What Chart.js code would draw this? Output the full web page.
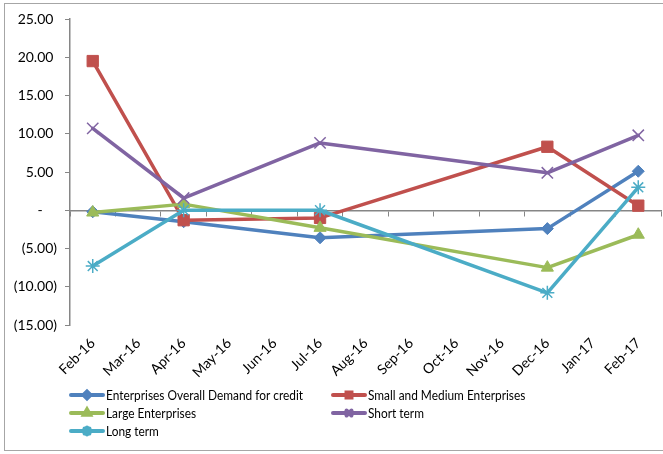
<!DOCTYPE html>
<html lang="en">
<head>
    <meta charset="UTF-8" />
    <title>Demand for credit</title>
    <script src="https://cdn.jsdelivr.net/npm/chart.js"></script>
    <style>
        html, body { margin: 0; padding: 0; background: #fff; }
        #wrap { width: 663px; height: 454px; }
    </style>
</head>
<body>
    <div id="wrap"><canvas id="creditChart" width="663" height="454"></canvas></div>
    <script>
        // Monthly axis, survey points only on some months (gaps spanned)
        const months = ['Feb-16', 'Mar-16', 'Apr-16', 'May-16', 'Jun-16', 'Jul-16', 'Aug-16',
                        'Sep-16', 'Oct-16', 'Nov-16', 'Dec-16', 'Jan-17', 'Feb-17'];
        const seriesNames = ['Enterprises Overall Demand for credit', 'Small and Medium Enterprises',
                             'Large Enterprises', 'Short term', 'Long term'];
        const overallDemand = [-0.2, null, -1.5, null, null, -3.6, null, null, null, null, -2.4, null, 5.1];
        const smeDemand     = [19.5, null, -1.3, null, null, -1.0, null, null, null, null, 8.3, null, 0.6];
        const largeDemand   = [-0.3, null, 0.8, null, null, -2.3, null, null, null, null, -7.5, null, -3.2];
        const shortTerm     = [10.7, null, 1.6, null, null, 8.8, null, null, null, null, 4.9, null, 9.8];
        const longTerm      = [-7.3, null, 0.0, null, null, 0.0, null, null, null, null, -10.8, null, 3.0];
        const yMin = -15, yMax = 25, yStep = 5;

        const colors = ['#4F81BD', '#C0504D', '#9BBB59', '#8064A2', '#4BACC6'];
        const markers = [
            { style: 'rectRot', r: 6, bw: 1 },
            { style: 'rect', r: 8, bw: 1 },
            { style: 'triangle', r: 7, bw: 1 },
            { style: 'crossRot', r: 8, bw: 1.5 },
            { style: 'star', r: 7, bw: 1.5 }
        ];
        const values = [overallDemand, smeDemand, largeDemand, shortTerm, longTerm];
        const FONT = 'Lato, "Liberation Sans", sans-serif';

        const datasets = values.map((data, i) => ({
            label: seriesNames[i],
            data: data,
            borderColor: colors[i],
            backgroundColor: colors[i],
            borderWidth: 3.5,
            borderJoinStyle: 'round',
            borderCapStyle: 'round',
            pointStyle: markers[i].style,
            pointRadius: markers[i].r,
            pointBorderWidth: markers[i].bw,
            pointBorderColor: colors[i],
            pointBackgroundColor: colors[i],
            spanGaps: true,
            tension: 0,
            clip: false,
            order: values.length - i   // last series drawn on top
        }));

        // Outer frame of the chart object
        const framePlugin = {
            id: 'frame',
            beforeDraw(chart) {
                const ctx = chart.ctx;
                ctx.save();
                ctx.fillStyle = '#fff';
                ctx.fillRect(0, 0, chart.width, chart.height);
                ctx.strokeStyle = '#a6a6a6';
                ctx.lineWidth = 1;
                ctx.strokeRect(4.5, 3.5, 700, 447);
                ctx.restore();
            }
        };

        // Legend laid out in two columns under the axis labels
        const gridLegend = {
            id: 'gridLegend',
            afterDraw(chart) {
                const ctx = chart.ctx;
                const colX = [69, 331];
                const rowY = [395, 413, 431];
                ctx.save();
                ctx.font = '13.5px ' + FONT;
                ctx.textBaseline = 'middle';
                ctx.textAlign = 'left';
                chart.data.datasets.forEach((ds, i) => {
                    const x = colX[i % 2];
                    const y = rowY[Math.floor(i / 2)];
                    ctx.strokeStyle = ds.borderColor;
                    ctx.lineWidth = 4;
                    ctx.lineCap = 'round';
                    ctx.beginPath();
                    ctx.moveTo(x + 2, y);
                    ctx.lineTo(x + 34, y);
                    ctx.stroke();
                    ctx.fillStyle = ds.backgroundColor;
                    Chart.helpers.drawPoint(ctx, {
                        pointStyle: ds.pointStyle, radius: 3.5, rotation: 0, borderWidth: 1
                    }, x + 18, y);
                    // narrower lettering, closer to the office font
                    ctx.save();
                    ctx.translate(x + 37, y + 1);
                    ctx.scale(0.88, 1);
                    ctx.fillStyle = '#000';
                    ctx.fillText(ds.label, 0, 0);
                    ctx.restore();
                });
                ctx.restore();
            }
        };

        const fmt = v => {
            if (v === 0) return '-    ';
            if (v < 0) return '(' + Math.abs(v).toFixed(2) + ')';
            return v.toFixed(2) + ' ';
        };

        new Chart(document.getElementById('creditChart').getContext('2d'), {
            type: 'line',
            data: { labels: months, datasets: datasets },
            options: {
                responsive: false,
                animation: false,
                layout: { autoPadding: false, padding: { left: 0, top: 19, right: 2, bottom: 69 } },
                plugins: {
                    legend: { display: false },
                    tooltip: { enabled: false }
                },
                scales: {
                    x: {
                        type: 'category',
                        position: 'bottom',
                        offset: true,
                        grid: { display: false, drawTicks: false },
                        border: { display: false },
                        ticks: {
                            minRotation: 45, maxRotation: 45, autoSkip: false,
                            padding: 10, color: '#000',
                            font: { family: FONT, size: 14 }
                        },
                        afterFit(scale) {
                            // rotated labels run leftwards, no room needed on the right
                            scale.height = 60;
                            scale.paddingRight = 0;
                        }
                    },
                    // horizontal axis line crossing at zero, with tick marks between months
                    xZero: {
                        type: 'category',
                        position: { y: 0 },
                        offset: true,
                        grid: { drawOnChartArea: false, drawTicks: true, tickLength: 5, offset: true, color: '#868686' },
                        border: { color: '#868686', width: 1.5 },
                        ticks: { display: false }
                    },
                    y: {
                        min: yMin, max: yMax,
                        grid: { drawOnChartArea: false, drawTicks: true, tickLength: 5, color: '#868686' },
                        border: { color: '#868686', width: 1.5 },
                        ticks: {
                            stepSize: yStep, padding: 8, color: '#000',
                            font: { family: FONT, size: 14 },
                            callback: v => fmt(v)
                        },
                        afterFit(scale) { scale.width = 70; }
                    }
                }
            },
            plugins: [framePlugin, gridLegend]
        });
    </script>
</body>
</html>
